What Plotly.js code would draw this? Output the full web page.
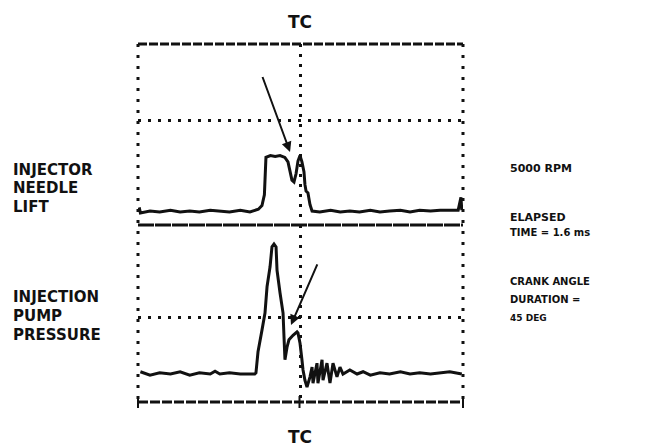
<!DOCTYPE html>
<html>
<head>
<meta charset="utf-8">
<script src="https://cdn.plot.ly/plotly-3.0.1.min.js"></script>
<style>html,body{margin:0;padding:0;background:#fff;}#chart{width:646px;height:446px;}</style>
</head>
<body>
<div id="chart"></div>
<script>
// Crank angle relative to top centre (deg)
var liftAngle = [-134,-133,-125,-117,-108,-100,-92,-84,-75,-67,-59,-50,-42,-35,-32,-30,-29.5,-28.7,-25,-21,-17,-13,-10.4,-8.7,-7.1,-5.4,-3.7,-2.1,-0.4,1.2,2.9,3.7,4.6,6.2,7.9,9.6,16,25,33,41,49,58,66,74,83,91,99,108,116,124,131,133.3,134];
var needleLift = [0.05,-0.01,0.01,0,0.02,0,0.01,0,0.02,0.01,0,0.02,0,0.03,0.07,0.19,0.46,0.60,0.62,0.61,0.62,0.60,0.55,0.46,0.35,0.33,0.42,0.56,0.62,0.55,0.44,0.30,0.23,0.21,0.08,0.01,0,0.02,0,0.01,0,0.02,0,0.01,0.02,0,0.02,0.01,0.02,0.02,0.02,0.16,0.02];

var pressAngle = [-133,-125,-117,-108,-100,-92,-84,-75,-71,-67,-59,-50,-42,-38,-37,-35.3,-32,-29.5,-27.8,-27,-25.3,-23.7,-22,-20.3,-19.5,-17,-14.5,-13.7,-12.9,-11.2,-9.6,-6.2,-2.9,-2.1,-0.4,1.2,2.1,3.7,5.4,7.9,9.6,10.4,13.7,14.5,17.9,18.7,22,24.5,27,30.3,32.8,35.3,41,47,52,58,66,74,83,91,99,108,116,124,134];
var pumpPressure = [0.04,-0.02,0.02,0,0.04,-0.02,0.02,0,0.05,0,0.02,0,0,0,0.02,0.39,0.77,1.07,1.53,1.65,1.88,2.23,2.28,2.23,1.82,1.42,1.07,0.65,0.25,0.47,0.60,0.68,0.74,0.72,0.54,0.25,0.07,-0.11,-0.23,-0.05,0.12,-0.16,0.19,-0.16,0.25,-0.11,0.19,-0.16,0.19,-0.05,0.12,0,0.07,0,0.04,-0.02,0.02,0,0.04,0,0.02,0,0.02,0.04,0];

var topLabels = ["INJECTOR","NEEDLE","LIFT"];
var botLabels = ["INJECTION","PUMP","PRESSURE"];
var rightLabels = ["5000 RPM","ELAPSED","TIME = 1.6 ms","CRANK ANGLE","DURATION =","45 DEG"];
var tcLabel = "TC";

// plot frame in pixels
var L = 138, R = 463, T = 44, B = 402, W = 646, H = 446;
function px(x){ return (x - L) / (R - L); }
function py(y){ return (B - y) / (B - T); }
var split = py(225);

var ink = '#111';
var font = {family: 'DejaVu Sans', weight: 'bold', color: ink};
function F(s){ return Object.assign({}, font, {size: s}); }

var annotations = [];
function txt(t, x, y, s, anchor){
  annotations.push({text: t, xref: 'paper', yref: 'paper', x: px(x), y: py(y),
    xanchor: anchor || 'left', yanchor: 'middle', showarrow: false, font: F(s)});
}
txt(tcLabel, 300, 22, 17, 'center');
txt(tcLabel, 300, 437, 17, 'center');
var ly1 = [170, 188, 207], ly2 = [297, 316, 335];
topLabels.forEach(function(t,i){ txt(t, 11, ly1[i], 15); });
botLabels.forEach(function(t,i){ txt(t, 11, ly2[i], 15); });
var ry = [168, 217, 232, 281, 299, 318], rs = [11, 11, 10, 10, 10, 9];
rightLabels.forEach(function(t,i){ txt(t, 508, ry[i], rs[i]); });

// arrows
annotations.push({xref: 'x', yref: 'y', axref: 'x', ayref: 'y', x: -8.7, y: 0.66, ax: -32, ay: 1.5,
  showarrow: true, arrowhead: 2, arrowsize: 1, arrowwidth: 2, arrowcolor: ink, text: ''});
annotations.push({xref: 'x', yref: 'y2', axref: 'x', ayref: 'y2', x: -7.9, y: 0.86, ax: 14.5, ay: 1.95,
  showarrow: true, arrowhead: 2, arrowsize: 1, arrowwidth: 2, arrowcolor: ink, text: ''});

function seg(x0,y0,x1,y1,w,dash){
  return {type: 'line', xref: 'paper', yref: 'paper', x0: px(x0), y0: py(y0), x1: px(x1), y1: py(y1),
    line: {color: ink, width: w, dash: dash}, layer: 'above'};
}
var shapes = [
  seg(138, 44, 463, 44, 3, '9px,2px'),
  seg(138, 225, 463, 225, 3, '16px,1px'),
  seg(138, 402, 463, 402, 3, '10px,2px'),
  seg(138, 44, 138, 402, 3, '3px,8px'),
  seg(463, 44, 463, 402, 3, '3px,8px'),
  seg(138, 396, 138, 408, 2, 'solid'),
  seg(299.5, 396, 299.5, 408, 2, 'solid'),
  seg(463, 396, 463, 408, 2, 'solid')
];

var traces = [
  {x: liftAngle, y: needleLift, xaxis: 'x', yaxis: 'y', mode: 'lines', type: 'scatter',
   line: {color: ink, width: 3}, hoverinfo: 'skip'},
  {x: pressAngle, y: pumpPressure, xaxis: 'x', yaxis: 'y2', mode: 'lines', type: 'scatter',
   line: {color: ink, width: 3}, hoverinfo: 'skip'}
];

var gridStyle = {showgrid: true, gridcolor: ink, gridwidth: 3, griddash: '3px,7px',
  showticklabels: false, ticks: '', zeroline: false, showline: false, fixedrange: true};

var layout = {
  width: W, height: H,
  margin: {l: L, r: W - R, t: T, b: H - B, pad: 0},
  paper_bgcolor: '#fff', plot_bgcolor: '#fff',
  showlegend: false,
  xaxis: Object.assign({}, gridStyle, {range: [-135, 135], tickvals: [0], domain: [0, 1]}),
  yaxis: Object.assign({}, gridStyle, {range: [-0.143, 1.846], tickvals: [1], domain: [split, 1], anchor: 'x'}),
  yaxis2: Object.assign({}, gridStyle, {range: [-0.491, 2.614], tickvals: [1], domain: [0, split], anchor: 'x'}),
  annotations: annotations,
  shapes: shapes
};

Plotly.newPlot('chart', traces, layout, {displayModeBar: false, staticPlot: true});
</script>
</body>
</html>
